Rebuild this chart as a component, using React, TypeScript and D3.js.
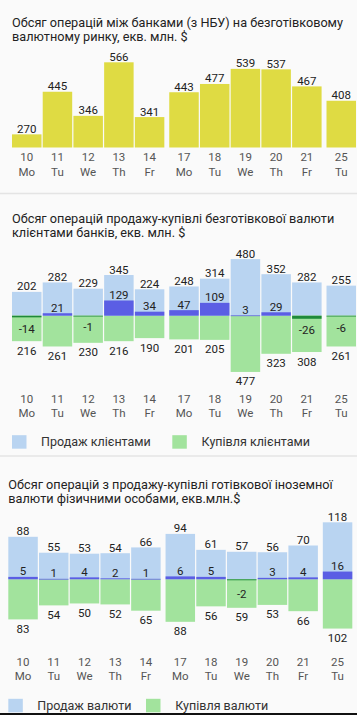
import React from "react";
import * as d3 from "d3";

const days = ["10", "11", "12", "13", "14", "17", "18", "19", "20", "21", "25"];
const weekdays = ["Mo", "Tu", "We", "Th", "Fr", "Mo", "Tu", "We", "Th", "Fr", "Tu"];
const weekIndex = [0, 0, 0, 0, 0, 1, 1, 1, 1, 1, 2];

const interbank = [270, 445, 346, 566, 341, 443, 477, 539, 537, 467, 408];

const clientSales = [202, 282, 229, 345, 224, 248, 314, 480, 352, 282, 255];
const clientPurchases = [216, 261, 230, 216, 190, 201, 205, 477, 323, 308, 261];
const clientNet = [-14, 21, -1, 129, 34, 47, 109, 3, 29, -26, -6];

const cashSales = [88, 55, 53, 54, 66, 94, 61, 57, 56, 70, 118];
const cashPurchases = [83, 54, 50, 52, 65, 88, 56, 59, 53, 66, 102];
const cashNet = [5, 1, 4, 2, 1, 6, 5, -2, 3, 4, 16];

const title1 = ["Обсяг операцій між банками (з НБУ) на безготівковому", "валютному ринку, екв. млн. $"];
const title2 = ["Обсяг операцій продажу-купівлі безготівкової валюти", "клієнтами банків, екв. млн. $"];
const title3 = ["Обсяг операцій з продажу-купівлі готівкової іноземної", "валюти фізичними особами, екв.млн.$"];
const legend2 = ["Продаж клієнтами", "Купівля клієнтами"];
const legend3 = ["Продаж валюти", "Купівля валюти"];

const W = 357;
const H = 715;
const FONT = "Roboto, 'Noto Sans', sans-serif";
const YELLOW = "#dfdb43";
const LBLUE = "#b9d4f1";
const DBLUE = "#5b5ee4";
const LGREEN = "#a2e39d";
const DGREEN = "#1f8a3a";
const BG = "#fafafa";
const GAP = 3.7;

function makeX(offset: number) {
  const band = d3.scaleBand<string>().domain(days).range([12, 356 - 2 * GAP]).paddingInner(0.04).paddingOuter(0);
  const x = (i: number) => (band(days[i]) as number) + weekIndex[i] * GAP + offset;
  return { x, bw: band.bandwidth() };
}

function Title({ lines, y, x }: { lines: string[]; y: number; x: number }) {
  return (
    <g>
      {lines.map((l, i) => (
        <text key={i} x={x} y={y + i * 14} fontSize={12.7} fill="#222" fontFamily={FONT}>
          {l}
        </text>
      ))}
    </g>
  );
}

function Ticks({ y1, y2, offset }: { y1: number; y2: number; offset: number }) {
  const { x, bw } = makeX(offset);
  return (
    <g fontFamily={FONT} fontSize={11.5} fill="#555" textAnchor="middle">
      {days.map((d, i) => (
        <g key={i}>
          <text x={x(i) + bw / 2} y={y1}>{d}</text>
          <text x={x(i) + bw / 2} y={y2}>{weekdays[i]}</text>
        </g>
      ))}
    </g>
  );
}

function Chart1() {
  const { x, bw } = makeX(0);
  const y = d3.scaleLinear().domain([0.8 * (d3.min(interbank) as number), d3.max(interbank) as number]).range([147.5, 62.3]);
  return (
    <g>
      <Title lines={title1} y={27} x={12} />
      {interbank.map((v, i) => (
        <g key={i}>
          <rect x={x(i)} y={y(v)} width={bw} height={147.5 - y(v)} fill={YELLOW} />
          <text x={x(i) + bw / 2} y={y(v) - 1.5} textAnchor="middle" fontSize={11.5} fill="#222" fontFamily={FONT}>
            {v}
          </text>
        </g>
      ))}
      <Ticks y1={160.7} y2={175.7} offset={0} />
    </g>
  );
}

function DivChart({
  sales, purchases, net, zero, half, offset, title, titleY, tickY1, tickY2, legend, legendY, negLabelOff, legendX2,
}: {
  sales: number[]; purchases: number[]; net: number[]; zero: number; half: number; offset: number;
  title: string[]; titleY: number; tickY1: number; tickY2: number; legend: string[]; legendY: number; negLabelOff: number; legendX2: number;
}) {
  const { x, bw } = makeX(offset);
  const m = d3.max([...sales, ...purchases]) as number;
  const y = d3.scaleLinear().domain([-m, m]).range([zero + half, zero - half]);
  const lbl = { textAnchor: "middle" as const, fontSize: 11.5, fill: "#222", fontFamily: FONT };
  return (
    <g>
      <Title lines={title} y={titleY} x={12 + offset} />
      {sales.map((s, i) => {
        const p = purchases[i];
        const n = net[i];
        const cx = x(i) + bw / 2;
        return (
          <g key={i}>
            <rect x={x(i)} y={y(s)} width={bw} height={y(0) - y(s)} fill={LBLUE} />
            <rect x={x(i)} y={y(0)} width={bw} height={y(-p) - y(0)} fill={LGREEN} />
            {n >= 0 ? (
              <rect x={x(i)} y={y(n)} width={bw} height={Math.max(0.8, y(0) - y(n))} fill={DBLUE} />
            ) : (
              <rect x={x(i)} y={y(0)} width={bw} height={Math.max(0.8, y(n) - y(0))} fill={DGREEN} />
            )}
            <text x={cx} y={y(s) - 1.5} {...lbl}>{s}</text>
            <text x={cx} y={y(-p) + 13.5} {...lbl}>{p}</text>
            {n >= 0 ? (
              <text x={cx} y={y(n) - 1.5} {...lbl}>{n}</text>
            ) : (
              <text x={cx} y={y(n) + negLabelOff} {...lbl}>{n}</text>
            )}
          </g>
        );
      })}
      <Ticks y1={tickY1} y2={tickY2} offset={offset} />
      <g fontFamily={FONT} fontSize={12.5} fill="#333">
        <rect x={12 + offset} y={legendY - 6.5} width={14.5} height={13.5} fill={LBLUE} />
        <text x={41 + offset} y={legendY + 4.3}>{legend[0]}</text>
        <rect x={legendX2 + offset} y={legendY - 6.5} width={14.5} height={13.5} fill={LGREEN} />
        <text x={legendX2 + 29.3 + offset} y={legendY + 4.3}>{legend[1]}</text>
      </g>
    </g>
  );
}

export default function App() {
  return (
    <svg width={W} height={H} style={{ position: "absolute", left: 0, top: 0, background: BG }}>
      <rect x={0} y={0} width={W} height={H} fill={BG} />
      <Chart1 />
      <line x1={0} x2={W} y1={193.5} y2={193.5} stroke="#e4e4e4" strokeWidth={1.5} />
      <DivChart
        sales={clientSales} purchases={clientPurchases} net={clientNet}
        zero={315.7} half={56.6} offset={0}
        title={title2} titleY={222.7} tickY1={403.4} tickY2={417}
        legend={legend2} legendY={441.7} negLabelOff={15.5} legendX2={172.3}
      />
      <line x1={0} x2={W} y1={456} y2={456} stroke="#e4e4e4" strokeWidth={1.5} />
      <DivChart
        sales={cashSales} purchases={cashPurchases} net={cashNet}
        zero={579.3} half={57} offset={-3.7}
        title={title3} titleY={489.3} tickY1={665.8} tickY2={679.6}
        legend={legend3} legendY={705.3} negLabelOff={17.5} legendX2={149.7}
      />
      <rect x={0} y={713} width={W} height={2} fill="#111" />
    </svg>
  );
}
